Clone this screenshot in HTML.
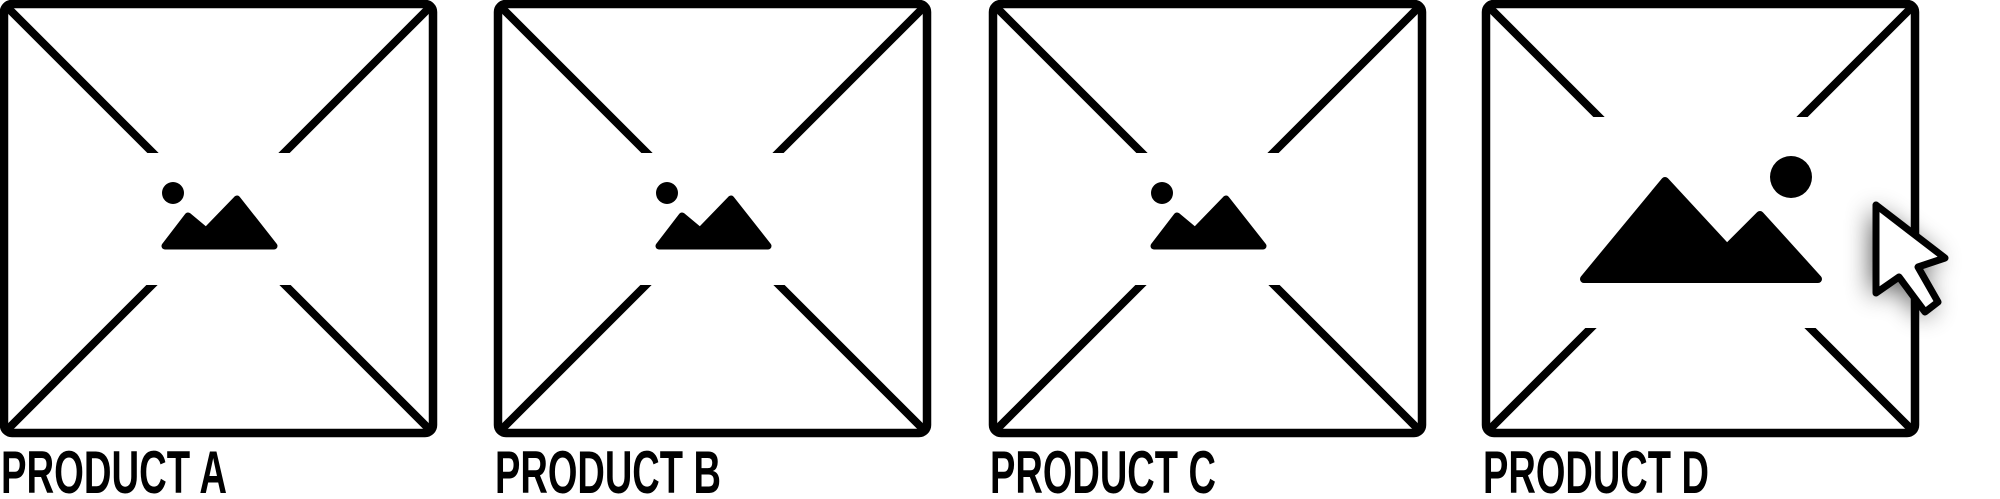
<!DOCTYPE html>
<html><head><meta charset="utf-8"><style>
html,body{margin:0;padding:0;background:#fff;width:2000px;height:499px;overflow:hidden}
text{font-family:"Liberation Sans",sans-serif;font-weight:bold}
</style></head><body>
<svg width="2000" height="499" viewBox="0 0 2000 499">
<defs>
<filter id="sh" x="-100%" y="-100%" width="300%" height="300%"><feGaussianBlur stdDeviation="13"/></filter>
</defs>
<g id="cards"></g>
<g>
<path d="M1876,205 L1876,293 L1899,277 L1925,312 L1938,302 L1918,267 L1945,258 Z" fill="#000" opacity="0.7" filter="url(#sh)" transform="translate(-4,4)"/>
<path d="M1876,205 L1876,293 L1899,277 L1925,312 L1938,302 L1918,267 L1945,258 Z" fill="#fff" stroke="#000" stroke-width="7" stroke-linejoin="round"/>
</g>
</svg>
<script>
const names=["PRODUCT A","PRODUCT B","PRODUCT C","PRODUCT D"];
const lefts=[0,494,989,1482];
const ns="http://www.w3.org/2000/svg";
const g=document.getElementById('cards');
function mk(tag,attrs,parent){const e=document.createElementNS(ns,tag);for(const k in attrs)e.setAttribute(k,attrs[k]);parent.appendChild(e);return e;}
names.forEach((n,i)=>{
  const x=lefts[i];
  const big=i===3;
  const card=mk('g',{},g);
  
  
  const w=437,h=437;
  mk('line',{x1:x+6,y1:6,x2:x+w-6,y2:h-6,stroke:'#000','stroke-width':8},card);
  mk('line',{x1:x+w-6,y1:6,x2:x+6,y2:h-6,stroke:'#000','stroke-width':8},card);
  const cutTop=big?117:153, cutBot=big?328:285;
  mk('rect',{x:x+60,y:cutTop,width:w-120,height:cutBot-cutTop,fill:'#fff'},card);
  const r=mk('rect',{x:x+4,y:4,width:w-8,height:h-8,rx:8,fill:'none',stroke:'#000','stroke-width':8.5},card);
  
  
  const icon=mk('g',{},card);
  
  
  if(!big){
    mk('circle',{cx:x+173,cy:193,r:11,fill:'#000'},icon);
    mk('path',{d:`M${x+165},${246} L${x+274},${246} L${x+237},${199} L${x+206},${231} L${x+188},${216} Z`,fill:'#000',stroke:'#000','stroke-width':7,'stroke-linejoin':'round'},icon);
  }else{
    mk('circle',{cx:x+309,cy:177,r:21,fill:'#000'},icon);
    mk('path',{d:`M${x+102},${279} L${x+336},${279} L${x+278},${215} L${x+245},${248} L${x+183},${181} Z`,fill:'#000',stroke:'#000','stroke-width':8,'stroke-linejoin':'round'},icon);
  }
  const t=mk('text',{x:x+1,y:493,'font-size':60,textLength:226,lengthAdjust:'spacingAndGlyphs',fill:'#000'},card);
  t.textContent=n;
  
  
});
</script>
</body></html>
